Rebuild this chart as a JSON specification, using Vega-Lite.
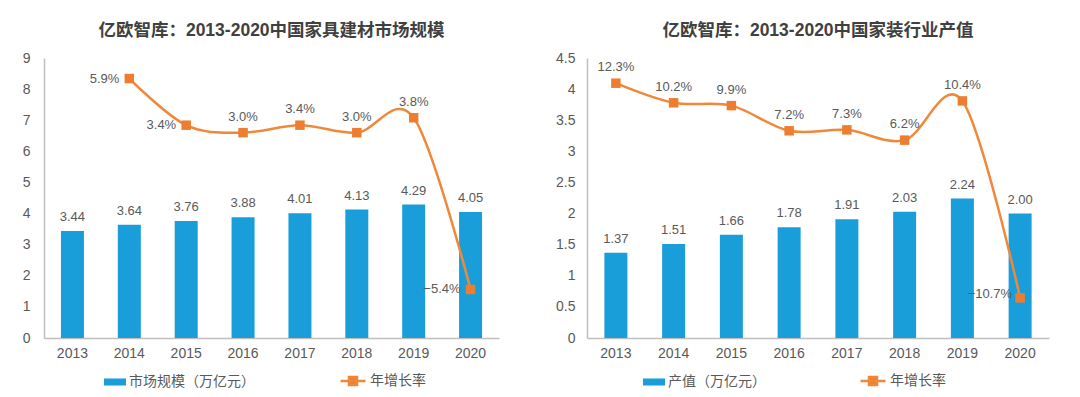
{
  "$schema": "https://vega.github.io/schema/vega-lite/v6.json",
  "padding": {"left": 22, "top": 21, "right": 10, "bottom": 5},
  "background": "white",
  "datasets": {
    "furn": [
      {"year": "2013", "size": 3.44, "rate": null},
      {"year": "2014", "size": 3.64, "rate": 0.059},
      {"year": "2015", "size": 3.76, "rate": 0.034},
      {"year": "2016", "size": 3.88, "rate": 0.030},
      {"year": "2017", "size": 4.01, "rate": 0.034},
      {"year": "2018", "size": 4.13, "rate": 0.030},
      {"year": "2019", "size": 4.29, "rate": 0.038},
      {"year": "2020", "size": 4.05, "rate": -0.054}
    ],
    "deco": [
      {"year": "2013", "value": 1.37, "rate": 0.123},
      {"year": "2014", "value": 1.51, "rate": 0.102},
      {"year": "2015", "value": 1.66, "rate": 0.099},
      {"year": "2016", "value": 1.78, "rate": 0.072},
      {"year": "2017", "value": 1.91, "rate": 0.073},
      {"year": "2018", "value": 2.03, "rate": 0.062},
      {"year": "2019", "value": 2.24, "rate": 0.104},
      {"year": "2020", "value": 2.00, "rate": -0.107}
    ]
  },
  "config": {
    "view": {"stroke": null},
    "font": "Liberation Sans, Noto Sans CJK SC",
    "axis": {
      "labelFont": "Liberation Sans, Noto Sans CJK SC",
      "labelFontSize": 14,
      "labelColor": "#595959",
      "domainColor": "#BFBFBF",
      "domainWidth": 1.5,
      "ticks": false,
      "grid": false,
      "title": null,
      "labelOverlap": false
    },
    "title": {
      "font": "Liberation Sans, Noto Sans CJK SC",
      "fontSize": 17.5,
      "fontWeight": "bold",
      "color": "#404040",
      "offset": 12
    },
    "legend": {
      "labelFont": "Liberation Sans, Noto Sans CJK SC",
      "labelFontSize": 14,
      "labelColor": "#595959",
      "title": null,
      "orient": "none",
      "labelOffset": 3
    }
  },
  "resolve": {
    "scale": {"fill": "independent", "stroke": "independent"},
    "legend": {"fill": "independent", "stroke": "independent"}
  },
  "hconcat": [
    {
      "width": 455,
      "height": 280,
      "title": {"text": "亿欧智库：2013-2020中国家具建材市场规模"},
      "data": {"name": "furn"},
      "resolve": {"scale": {"y": "independent"}},
      "layer": [
        {
          "encoding": {
            "x": {"field": "year", "type": "ordinal", "scale": {"paddingInner": 0.6, "paddingOuter": 0.3}, "axis": {"labelAngle": 0, "labelPadding": 8}},
            "y": {"field": "size", "type": "quantitative", "scale": {"domain": [0, 9], "nice": false}, "axis": {"values": [0,1,2,3,4,5,6,7,8,9], "labelPadding": 14}}
          },
          "layer": [
            {
              "mark": {"type": "bar", "width": 23},
              "encoding": {
                "fill": {"datum": "市场规模（万亿元）", "type": "nominal", "scale": {"range": ["#1A9ED9"]},
                  "legend": {"legendX": 60, "legendY": 313, "symbolType": "M-1,-0.32H1V0.32H-1Z", "symbolSize": 484, "symbolStrokeWidth": 0}}
              }
            },
            {
              "mark": {"type": "text", "baseline": "bottom", "dy": -7, "fontSize": 13, "color": "#595959"},
              "encoding": {
                "text": {"field": "size", "type": "quantitative", "format": ".2f"}
              }
            }
          ]
        },
        {
          "transform": [{"filter": "datum.rate != null"}],
          "encoding": {
            "x": {"field": "year", "type": "ordinal"},
            "y": {"field": "rate", "type": "quantitative", "scale": {"domain": [-0.08, 0.07], "nice": false, "zero": false}, "axis": null}
          },
          "layer": [
            {
              "mark": {"type": "line", "interpolate": "cardinal", "strokeWidth": 2.5},
              "encoding": {
                "stroke": {"datum": "年增长率", "type": "nominal", "scale": {"range": ["#F0883A"]},
                  "legend": {"legendX": 295, "legendY": 309, "symbolType": "M-1,0H1M-0.32,-0.32H0.32V0.32H-0.32Z", "symbolSize": 625, "symbolStrokeWidth": 2.5, "symbolFillColor": "#ED7D31"}}
              }
            },
            {
              "mark": {"type": "point", "shape": "square", "filled": true, "size": 90, "color": "#ED7D31", "opacity": 1}
            },
            {
              "transform": [{"filter": "datum.year == '2014' || datum.year == '2015' || datum.year == '2020'"}],
              "mark": {"type": "text", "align": "right", "baseline": "middle", "dx": -10, "fontSize": 13, "color": "#595959"},
              "encoding": {
                "text": {"field": "rate", "type": "quantitative", "format": ".1%"}
              }
            },
            {
              "transform": [{"filter": "datum.year != '2014' && datum.year != '2015' && datum.year != '2020'"}],
              "mark": {"type": "text", "align": "center", "baseline": "bottom", "dy": -9, "fontSize": 13, "color": "#595959"},
              "encoding": {
                "text": {"field": "rate", "type": "quantitative", "format": ".1%"}
              }
            }
          ]
        }
      ]
    },
    {
      "width": 462,
      "height": 280,
      "title": {"text": "亿欧智库：2013-2020中国家装行业产值"},
      "data": {"name": "deco"},
      "resolve": {"scale": {"y": "independent"}},
      "layer": [
        {
          "encoding": {
            "x": {"field": "year", "type": "ordinal", "scale": {"paddingInner": 0.6, "paddingOuter": 0.3}, "axis": {"labelAngle": 0, "labelPadding": 8}},
            "y": {"field": "value", "type": "quantitative", "scale": {"domain": [0, 4.5], "nice": false}, "axis": {"values": [0,0.5,1,1.5,2,2.5,3,3.5,4,4.5], "format": "~g", "labelPadding": 12}}
          },
          "layer": [
            {
              "mark": {"type": "bar", "width": 23},
              "encoding": {
                "fill": {"datum": "产值（万亿元）", "type": "nominal", "scale": {"range": ["#1A9ED9"]},
                  "legend": {"legendX": 56, "legendY": 313, "symbolType": "M-1,-0.32H1V0.32H-1Z", "symbolSize": 484, "symbolStrokeWidth": 0}}
              }
            },
            {
              "mark": {"type": "text", "baseline": "bottom", "dy": -7, "fontSize": 13, "color": "#595959"},
              "encoding": {
                "text": {"field": "value", "type": "quantitative", "format": ".2f"}
              }
            }
          ]
        },
        {
          "encoding": {
            "x": {"field": "year", "type": "ordinal"},
            "y": {"field": "rate", "type": "quantitative", "scale": {"domain": [-0.15, 0.15], "nice": false, "zero": false}, "axis": null}
          },
          "layer": [
            {
              "mark": {"type": "line", "interpolate": "cardinal", "strokeWidth": 2.5},
              "encoding": {
                "stroke": {"datum": "年增长率", "type": "nominal", "scale": {"range": ["#F0883A"]},
                  "legend": {"legendX": 272, "legendY": 309, "symbolType": "M-1,0H1M-0.32,-0.32H0.32V0.32H-0.32Z", "symbolSize": 625, "symbolStrokeWidth": 2.5, "symbolFillColor": "#ED7D31"}}
              }
            },
            {
              "mark": {"type": "point", "shape": "square", "filled": true, "size": 90, "color": "#ED7D31", "opacity": 1}
            },
            {
              "transform": [{"filter": "datum.year == '2020'"}],
              "mark": {"type": "text", "align": "right", "baseline": "middle", "dx": -8, "dy": -4, "fontSize": 13, "color": "#595959"},
              "encoding": {
                "text": {"field": "rate", "type": "quantitative", "format": ".1%"}
              }
            },
            {
              "transform": [{"filter": "datum.year != '2020'"}],
              "mark": {"type": "text", "align": "center", "baseline": "bottom", "dy": -9, "fontSize": 13, "color": "#595959"},
              "encoding": {
                "text": {"field": "rate", "type": "quantitative", "format": ".1%"}
              }
            }
          ]
        }
      ]
    }
  ],
  "spacing": 56
}
